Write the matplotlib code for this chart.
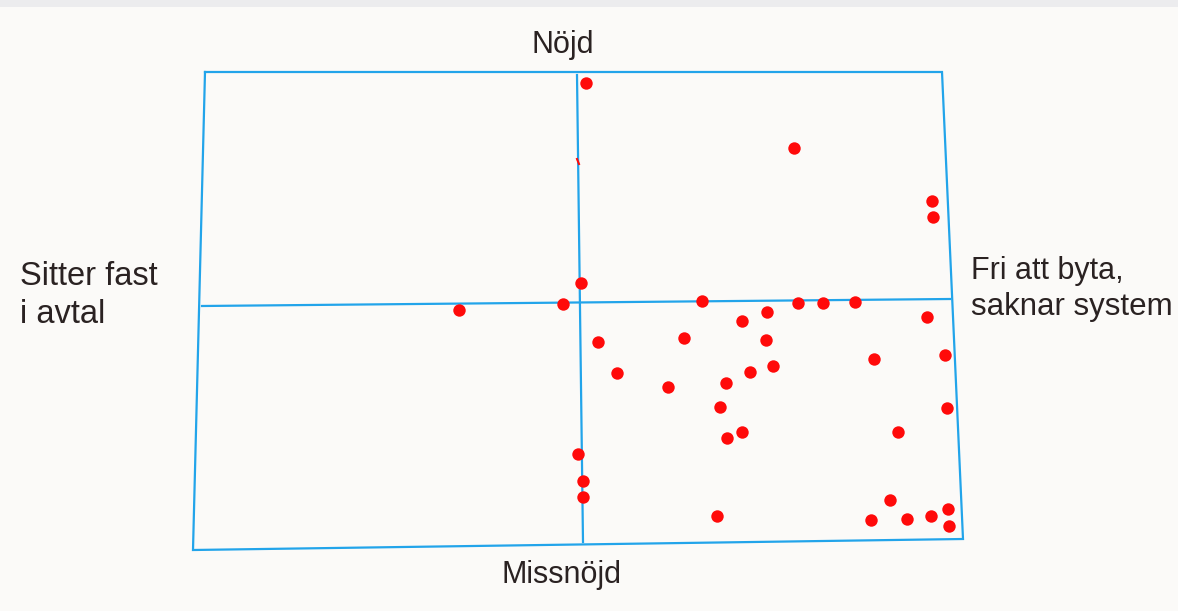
import numpy as np
import matplotlib
matplotlib.use("Agg")
import matplotlib.pyplot as plt

# positions (image pixel frame, y grows downward)
pos_x = [586, 794, 932, 933,
         581, 459, 563, 702, 798, 823, 855, 742, 767, 927,
         598, 684, 766, 617, 773, 750, 668, 726, 874, 945,
         720, 947, 727, 742, 898, 578, 583, 583, 717,
         890, 871, 907, 931, 948, 949]
pos_y = [83, 148, 201, 217,
         283, 310, 304, 301, 303, 303, 302, 321, 312, 317,
         342, 338, 340, 373, 366, 372, 387, 383, 359, 355,
         407, 408, 438, 432, 432, 454, 481, 497, 516,
         500, 520, 519, 516, 509, 526]

# hand drawn frame (slightly skewed in the photo)
frame_x = [205, 942, 963, 193, 205]
frame_y = [72, 72, 539, 550, 72]
vline_x = [577, 583]
vline_y = [75, 542]
hline_x = [202, 950]
hline_y = [306, 299]

label_top = "Nöjd"
label_bottom = "Missnöjd"
label_left = ["Sitter fast", "i avtal"]
label_right = ["Fri att byta,", "saknar system"]

W, H = 1178, 611
fig = plt.figure(figsize=(W / 100, H / 100), dpi=100)
fig.patch.set_facecolor('#fbfaf8')
ax = fig.add_axes([0, 0, 1, 1])
ax.set_xlim(0, W)
ax.set_ylim(H, 0)
ax.axis('off')

# grey strip at the top of the photo
ax.fill_between([0, W], 0, 7, color='#ececee', lw=0)

blue = '#22a4ea'
ax.plot(frame_x, frame_y, color=blue, lw=1.6, solid_joinstyle='miter')
ax.plot(vline_x, vline_y, color=blue, lw=1.6)
ax.plot(hline_x, hline_y, color=blue, lw=1.6)

ax.scatter(pos_x, pos_y, s=80, color='#ff0a0a', lw=0, zorder=3)
# small stray red mark on the middle line
ax.plot([577, 579], [159, 164], color='#ff0a0a', lw=1.5)

txt = dict(color='#2a2222', family='Liberation Sans')
ax.text(563, 53, label_top, ha='center', va='baseline', fontsize=22, **txt)
ax.text(562, 583, label_bottom, ha='center', va='baseline', fontsize=22, **txt)
ax.text(20, 285, label_left[0], ha='left', va='baseline', fontsize=23.5, **txt)
ax.text(20, 323, label_left[1], ha='left', va='baseline', fontsize=23.5, **txt)
ax.text(971, 279, label_right[0], ha='left', va='baseline', fontsize=22, **txt)
ax.text(971, 315, label_right[1], ha='left', va='baseline', fontsize=22.5, **txt)

fig.savefig('out.png', dpi=100, facecolor=fig.get_facecolor())
